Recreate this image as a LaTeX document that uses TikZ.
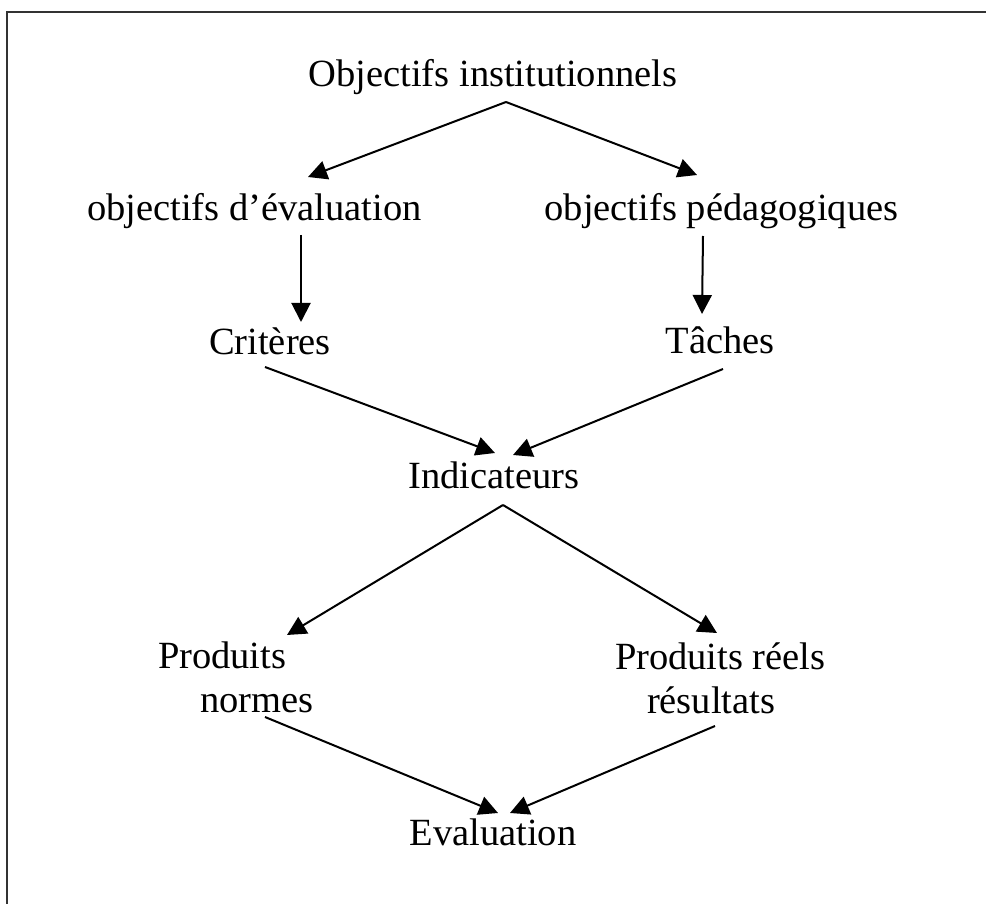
\documentclass[tikz,border=0pt]{standalone}
\usepackage{fontspec}
\setmainfont{Liberation Serif}
\usetikzlibrary{arrows.meta,calc}

\tikzset{
  lbl/.style={inner sep=0pt, outer sep=0pt, anchor=base,
              font=\fontsize{38.5}{44}\selectfont},
  lblw/.style={lbl, anchor=base west},
  link/.style={line width=2pt, -{Triangle[length=19pt,width=19pt]}},
  frame/.style={line width=1.6pt, draw=black!80}
}

\begin{document}
\begin{tikzpicture}[x=1pt, y=-1pt]
  \useasboundingbox (0,0) rectangle (986,904);
  \clip (0,0) rectangle (986,904);

  % outer frame (only the top and left edges fall inside the page)
  \draw[frame] (7,910) -- (7,12) -- (995,12);

  % labels
  \node[lbl]  (inst)    at (493,87)    {Objectifs institutionnels};
  \node[lbl]  (evalobj) at (254.5,221) {objectifs d’évaluation};
  \node[lbl]  (pedag)   at (721.5,221) {objectifs pédagogiques};
  \node[lbl]  (crit)    at (270,355)   {Critères};
  \node[lbl]  (tach)    at (720,353)   {Tâches};
  \node[lbl]  (ind)     at (494,488)   {Indicateurs};
  \node[lblw] (prodn)   at (158,668)
    {\begin{tabular}[t]{@{}l@{}}Produits\\\hspace*{42pt}normes\end{tabular}};
  \node[lblw] (prodr)   at (615,669)
    {\begin{tabular}[t]{@{}l@{}}Produits réels\\\hspace*{32pt}résultats\end{tabular}};
  \node[lbl]  (eval)    at (493,845)   {Evaluation};

  % connectors
  \draw[link] ($(inst.base)+(13,15)$)    -- ($(evalobj.base)+(53.5,-44)$);
  \draw[link] ($(inst.base)+(13,15)$)    -- ($(pedag.base)+(-24.5,-46)$);

  \draw[link] ($(evalobj.base)+(46.5,14)$) -- ($(crit.base)+(31,-33)$);
  \draw[link] ($(pedag.base)+(-18.5,15)$)  -- ($(tach.base)+(-18,-39)$);

  \draw[link] ($(crit.base)+(-5,12)$)    -- ($(ind.base)+(1,-35)$);
  \draw[link] ($(tach.base)+(3,16)$)     -- ($(ind.base)+(19,-33)$);

  \draw[link] ($(ind.base)+(9,17)$)      -- ($(prodn.base west)+(129,-33)$);
  \draw[link] ($(ind.base)+(9,17)$)      -- ($(prodr.base west)+(102,-36)$);

  \draw[link] ($(prodn.base west)+(107,49)$) -- ($(eval.base)+(5,-32)$);
  \draw[link] ($(prodr.base west)+(100,57)$) -- ($(eval.base)+(17,-32)$);
\end{tikzpicture}
\end{document}
